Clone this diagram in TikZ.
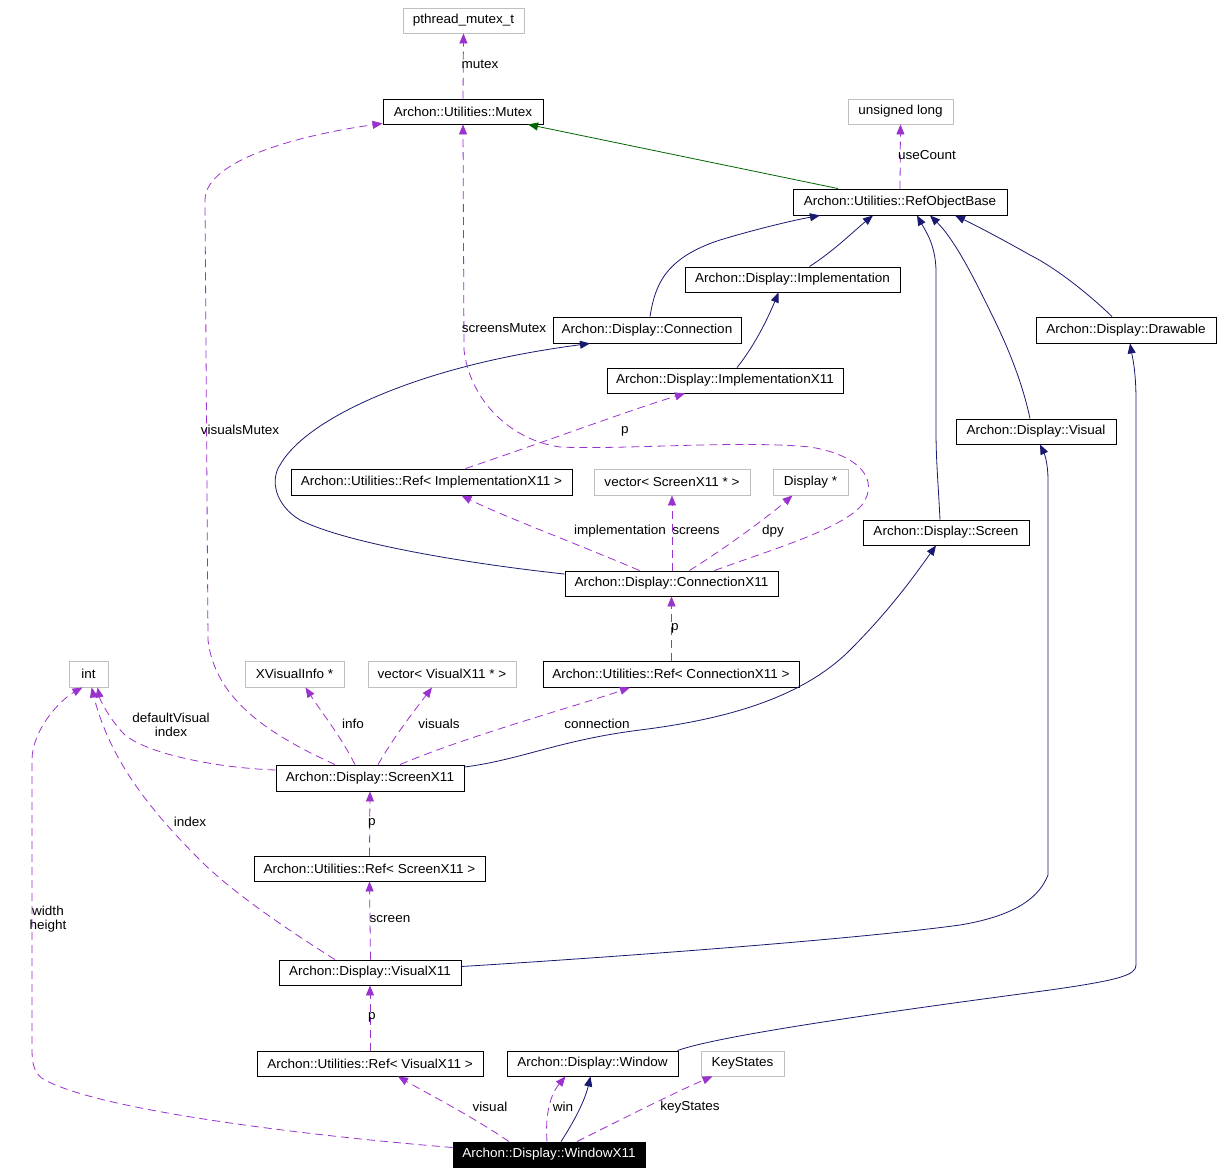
\documentclass[tikz,border=0pt]{standalone}
\usepackage{fontspec}
\setmainfont{Liberation Sans}[FakeStretch=1.04]
\usetikzlibrary{arrows.meta}
\definecolor{usecol}{HTML}{9A32CD}
\definecolor{inhcol}{HTML}{191970}
\definecolor{grncol}{HTML}{006400}
\definecolor{graycol}{HTML}{BFBFBF}
\begin{document}
\begin{tikzpicture}[x=1pt,y=-1pt,
  every node/.style={font=\fontsize{13}{14.5}\selectfont, inner sep=0pt},
  cls/.style={draw=black, line width=0.9pt, minimum height=25pt},
  ext/.style={draw=graycol, line width=0.9pt, minimum height=25pt},
  cur/.style={draw=black, fill=black, text=white, line width=0.9pt, minimum height=25pt},
  use/.style={draw=usecol, line width=0.8pt, dash pattern=on 8pt off 5pt, -{Triangle[length=10pt,width=8pt]}, usecol},
  inh/.style={draw=inhcol, line width=0.8pt, -{Triangle[length=10pt,width=8pt]}, inhcol},
  prot/.style={draw=grncol, line width=0.8pt, -{Triangle[length=10pt,width=8pt]}, grncol},
  lbl/.style={align=center, text=black}
]
\useasboundingbox (0,0) rectangle (1221,1173);
\fill[white] (0,0) rectangle (1221,1173);

% nodes
\node[ext, minimum width=121pt] (pthread) at (463.5,20.5) {pthread\_mutex\_t};
\node[cls, minimum width=160pt] (mutex) at (463,111.5) {Archon::Utilities::Mutex};
\node[ext, minimum width=105pt] (ulong) at (900.5,111.5) {unsigned long};
\node[cls, minimum width=214pt, minimum height=26pt] (rob) at (900,202) {Archon::Utilities::RefObjectBase};
\node[cls, minimum width=215pt] (impl) at (792.5,279.5) {Archon::Display::Implementation};
\node[cls, minimum width=188pt, minimum height=26pt] (conn) at (647,330) {Archon::Display::Connection};
\node[cls, minimum width=180pt, minimum height=26pt] (drawb) at (1126,330) {Archon::Display::Drawable};
\node[cls, minimum width=236pt] (implx) at (725,380.5) {Archon::Display::ImplementationX11};
\node[cls, minimum width=160pt] (visual) at (1036,431.5) {Archon::Display::Visual};
\node[cls, minimum width=281pt, minimum height=26pt] (refimpl) at (431.5,482) {Archon::Utilities::Ref< ImplementationX11 >};
\node[ext, minimum width=156pt, minimum height=26pt] (vecscr) at (672,482) {vector< ScreenX11 * >};
\node[ext, minimum width=75pt, minimum height=26pt] (disp) at (810.5,482) {Display *};
\node[cls, minimum width=166pt] (screen) at (946,532.5) {Archon::Display::Screen};
\node[cls, minimum width=213pt] (connx) at (671.5,583.5) {Archon::Display::ConnectionX11};
\node[ext, minimum width=39pt, minimum height=26pt] (int) at (88.5,674) {int};
\node[ext, minimum width=99pt, minimum height=26pt] (xvi) at (294.5,674) {XVisualInfo *};
\node[ext, minimum width=148pt, minimum height=26pt] (vecvis) at (442,674) {vector< VisualX11 * >};
\node[cls, minimum width=256pt, minimum height=26pt] (refconn) at (671,674) {Archon::Utilities::Ref< ConnectionX11 >};
\node[cls, minimum width=188pt, minimum height=26pt] (scrx) at (370,778) {Archon::Display::ScreenX11};
\node[cls, minimum width=231pt] (refscr) at (369.5,868.5) {Archon::Utilities::Ref< ScreenX11 >};
\node[cls, minimum width=182pt] (visx) at (370,972.5) {Archon::Display::VisualX11};
\node[cls, minimum width=226pt] (refvis) at (370,1063.5) {Archon::Utilities::Ref< VisualX11 >};
\node[cls, minimum width=171pt] (win) at (592.5,1063.5) {Archon::Display::Window};
\node[ext, minimum width=83pt] (keys) at (742.5,1063.5) {KeyStates};
\node[cur, minimum width=192pt] (winx) at (549,1154.5) {Archon::Display::WindowX11};

% edges
\draw[use] (mutex.north) -- (pthread.south);
\draw[prot] ([xshift=-62]rob.north) -- ([xshift=65]mutex.south);
\draw[use] (rob.north) -- (ulong.south);
\draw[inh] ([xshift=17]impl.north) .. controls (835,250) and (855,230) .. ([xshift=-27]rob.south);
\draw[inh] ([xshift=3]conn.north) .. controls (655,285) and (665,258) .. (720,240) .. controls (760,228) and (795,220) .. ([xshift=-80]rob.south);
\draw[inh] ([xshift=-6]screen.north) .. controls (938,480) and (936,460) .. (936,430) -- (936,272) .. controls (936,245) and (925,230) .. ([xshift=17]rob.south);
\draw[inh] ([xshift=-6]visual.north) .. controls (1024,390) and (1012,355) .. (992,315) .. controls (975,280) and (955,240) .. ([xshift=30]rob.south);
\draw[inh] ([xshift=-14]drawb.north) .. controls (1095,300) and (1060,270) .. (1030,255) .. controls (1000,238) and (975,225) .. ([xshift=55]rob.south);
\draw[inh] ([xshift=12]implx.north) .. controls (755,345) and (768,318) .. ([xshift=-14]impl.south);
\draw[inh] ([yshift=9.5]connx.west) .. controls (480,565) and (350,545) .. (300,520) .. controls (275,505) and (270,480) .. (280,465) .. controls (300,430) and (360,400) .. (420,380) .. controls (480,360) and (540,350) .. ([xshift=-57]conn.south);
\draw[use] ([xshift=-32]connx.north) .. controls (580,545) and (500,515) .. ([xshift=30]refimpl.south);
\draw[use] ([xshift=0.5]connx.north) -- (vecscr.south);
\draw[use] ([xshift=18]connx.north) .. controls (730,545) and (770,515) .. ([xshift=-18]disp.south);
\draw[use] ([xshift=43]connx.north) .. controls (770,550) and (840,530) .. (862,505) .. controls (880,480) and (860,455) .. (810,447) .. controls (740,440) and (620,450) .. (560,447) .. controls (510,440) and (470,400) .. (464,350) -- (mutex.south);
\draw[use] ([xshift=-35]scrx.north) .. controls (270,735) and (215,700) .. (208,640) -- (205,200) .. controls (205,160) and (300,135) .. ([yshift=1]mutex.south west);
\draw[use] ([yshift=8]scrx.west) .. controls (220,768) and (150,755) .. (125,735) .. controls (110,720) and (100,700) .. ([xshift=9]int.south);
\draw[use] ([xshift=-15]scrx.north) .. controls (340,735) and (320,710) .. ([xshift=11]xvi.south);
\draw[use] ([xshift=8]scrx.north) .. controls (395,735) and (415,710) .. ([xshift=-10]vecvis.south);
\draw[use] ([xshift=30]scrx.north) .. controls (470,735) and (580,705) .. ([xshift=-41]refconn.south);
\draw[inh] ([yshift=11]scrx.east) .. controls (520,760) and (560,740) .. (640,730) .. controls (720,720) and (800,700) .. (850,650) .. controls (890,610) and (915,575) .. ([xshift=-10]screen.south);
\draw[use] (refscr.north) -- (scrx.south);
\draw[use] ([xshift=0.5]refconn.north) -- (connx.south);
\draw[use] ([xshift=34]refimpl.north) .. controls (550,440) and (630,410) .. ([xshift=-40]implx.south);
\draw[use] ([xshift=0.5]visx.north) -- (refscr.south);
\draw[use] ([xshift=-35]visx.north) .. controls (280,925) and (230,890) .. (200,860) .. controls (150,810) and (110,760) .. ([xshift=3]int.south);
\draw[inh] ([yshift=6]visx.east) .. controls (600,958) and (850,940) .. (960,925) .. controls (1020,915) and (1040,895) .. (1048,875) -- (1048,480) .. controls (1048,465) and (1045,455) .. ([xshift=4]visual.south);
\draw[use] (refvis.north) -- (visx.south);
\draw[use] ([xshift=-40]winx.north) .. controls (470,1115) and (430,1095) .. ([xshift=28]refvis.south);
\draw[use] ([xshift=-2]winx.north) .. controls (545,1115) and (550,1095) .. ([xshift=-27]win.south);
\draw[inh] ([xshift=12]winx.north) .. controls (575,1120) and (585,1100) .. ([xshift=-2]win.south);
\draw[use] ([xshift=28]winx.north) .. controls (630,1115) and (680,1090) .. ([xshift=-30]keys.south);
\draw[use] ([yshift=7]winx.west) .. controls (300,1135) and (100,1110) .. (45,1080) .. controls (35,1075) and (32,1065) .. (32,1050) -- (32,760) .. controls (32,730) and (60,700) .. ([xshift=-6]int.south);
\draw[inh] ([xshift=85]win.north) .. controls (720,1035) and (900,1010) .. (1050,990) .. controls (1120,980) and (1136,975) .. (1136,965) -- (1136,400) .. controls (1136,370) and (1132,355) .. ([xshift=4]drawb.south);

% labels
\node[lbl] (l1) at (480,64) {mutex};
\node[lbl] (l2) at (927,155) {useCount};
\node[lbl] (l3) at (504,328) {screensMutex};
\node[lbl] (l4) at (240,430) {visualsMutex};
\node[lbl] (l5) at (625,431) {p};
\node[lbl] (l6) at (620,531) {implementation};
\node[lbl] (l7) at (696,531) {screens};
\node[lbl] (l8) at (773,531) {dpy};
\node[lbl] (l9) at (675,628) {p};
\node[lbl] (l10) at (171,725) {defaultVisual\\index};
\node[lbl] (l11) at (353,724) {info};
\node[lbl] (l12) at (439,724) {visuals};
\node[lbl] (l13) at (597,724) {connection};
\node[lbl] (l14) at (190,822) {index};
\node[lbl] (l15) at (372,823) {p};
\node[lbl] (l16) at (390,919) {screen};
\node[lbl] (l17) at (48,919) {width\\height};
\node[lbl] (l18) at (372,1017) {p};
\node[lbl] (l19) at (490,1107) {visual};
\node[lbl] (l20) at (563,1107) {win};
\node[lbl] (l21) at (690,1107) {keyStates};
\end{tikzpicture}
\end{document}
